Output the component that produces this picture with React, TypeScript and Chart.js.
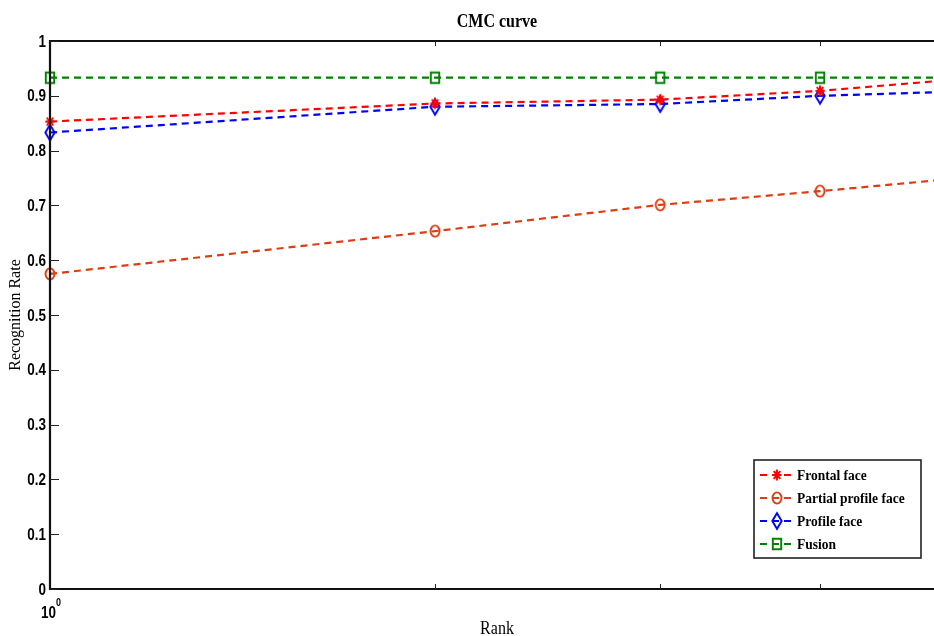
import { useEffect, useRef } from "react";
import { Chart, registerables } from "chart.js";

Chart.register(...registerables);

// Rank axis (logarithmic) and recognition rates per rank
const ranks = [1, 2, 3, 4, 5];
const frontalFace = [0.853, 0.886, 0.893, 0.909, 0.928];
const partialProfileFace = [0.575, 0.653, 0.701, 0.726, 0.747];
const profileFace = [0.833, 0.88, 0.885, 0.9, 0.907];
const fusion = [0.933, 0.933, 0.933, 0.933, 0.933];

const seriesLabels = ["Frontal face", "Partial profile face", "Profile face", "Fusion"];
const seriesValues = [frontalFace, partialProfileFace, profileFace, fusion];
const seriesColors = ["#ff0000", "#de3c12", "#0000ff", "#008000"];
const seriesMarkers = ["star", "circle", "diamond", "square"];

const yTickValues = [0, 0.1, 0.2, 0.3, 0.4, 0.5, 0.6, 0.7, 0.8, 0.9, 1];
const xMinorTicks = [2, 3, 4];
const xTickBase = "10";
const xTickExponent = "0";

const chartTitle = "CMC curve";
const xTitle = "Rank";
const yTitle = "Recognition Rate";

const CANVAS_W = 960;
const CANVAS_H = 636;
const SANS = "'Liberation Sans', Arial, Helvetica, sans-serif";
const SERIF = "'Liberation Serif', 'Times New Roman', Times, serif";
const STRETCH = 1.22;

function makeMarker(kind: string, color: string): HTMLCanvasElement {
  const c = document.createElement("canvas");
  const w = 14;
  const h = kind === "diamond" ? 20 : 16;
  c.width = w;
  c.height = h;
  const ctx = c.getContext("2d")!;
  const cx = w / 2;
  const cy = h / 2;
  ctx.strokeStyle = color;
  ctx.lineWidth = 1.9;
  ctx.beginPath();
  if (kind === "star") {
    const rx = 4.6;
    const ry = 5.4;
    ctx.moveTo(cx - rx, cy);
    ctx.lineTo(cx + rx, cy);
    ctx.moveTo(cx, cy - ry);
    ctx.lineTo(cx, cy + ry);
    ctx.moveTo(cx - rx * 0.72, cy - ry * 0.72);
    ctx.lineTo(cx + rx * 0.72, cy + ry * 0.72);
    ctx.moveTo(cx + rx * 0.72, cy - ry * 0.72);
    ctx.lineTo(cx - rx * 0.72, cy + ry * 0.72);
  } else if (kind === "circle") {
    ctx.ellipse(cx, cy, 4.5, 5.6, 0, 0, Math.PI * 2);
  } else if (kind === "diamond") {
    ctx.moveTo(cx, cy - 7.8);
    ctx.lineTo(cx + 4.7, cy);
    ctx.lineTo(cx, cy + 7.8);
    ctx.lineTo(cx - 4.7, cy);
    ctx.closePath();
  } else {
    ctx.rect(cx - 4.2, cy - 5.2, 8.4, 10.4);
  }
  ctx.stroke();
  return c;
}

function drawText(
  ctx: CanvasRenderingContext2D,
  text: string,
  x: number,
  y: number,
  font: string,
  align: CanvasTextAlign,
  baseline: CanvasTextBaseline,
  sy = STRETCH
) {
  ctx.save();
  ctx.translate(x, y);
  ctx.scale(1, sy);
  ctx.font = font;
  ctx.textAlign = align;
  ctx.textBaseline = baseline;
  ctx.fillStyle = "#000";
  ctx.fillText(text, 0, 0);
  ctx.restore();
}

const matlabFrame = {
  id: "matlabFrame",
  afterDraw(chart: any) {
    const ctx: CanvasRenderingContext2D = chart.ctx;
    const { left, right, top, bottom } = chart.chartArea;
    const xs = chart.scales.x;
    const ys = chart.scales.y;

    ctx.save();
    // axes box
    ctx.strokeStyle = "#111";
    ctx.lineWidth = 2.2;
    ctx.beginPath();
    ctx.rect(left, top, right - left, bottom - top);
    ctx.stroke();

    // inward tick marks
    ctx.lineWidth = 1;
    ctx.strokeStyle = "#222";
    ctx.beginPath();
    for (const v of yTickValues) {
      const py = Math.round(ys.getPixelForValue(v)) + 0.5;
      ctx.moveTo(left, py);
      ctx.lineTo(left + 9, py);
      ctx.moveTo(right, py);
      ctx.lineTo(right - 9, py);
    }
    for (const v of xMinorTicks) {
      const px = Math.round(xs.getPixelForValue(v)) + 0.5;
      ctx.moveTo(px, bottom);
      ctx.lineTo(px, bottom - 5);
      ctx.moveTo(px, top);
      ctx.lineTo(px, top + 5);
    }
    ctx.stroke();

    // y tick labels
    for (const v of yTickValues) {
      const py = ys.getPixelForValue(v);
      drawText(ctx, String(v), left - 4, py + 1, `bold 13.5px ${SANS}`, "right", "middle");
    }

    // x tick label 10^0
    const x0 = xs.getPixelForValue(ranks[0]);
    drawText(ctx, xTickBase, x0 - 9, bottom + 16, `bold 13.5px ${SANS}`, "left", "top");
    drawText(ctx, xTickExponent, x0 + 6, bottom + 8, `bold 9px ${SANS}`, "left", "top");

    // titles
    const cx = (left + right) / 2;
    drawText(ctx, chartTitle, cx, 27, `bold 16px ${SERIF}`, "center", "alphabetic");
    drawText(ctx, xTitle, cx, 634, `16px ${SERIF}`, "center", "alphabetic");
    ctx.save();
    ctx.translate(16, (top + bottom) / 2);
    ctx.rotate(-Math.PI / 2);
    ctx.font = `16px ${SERIF}`;
    ctx.textAlign = "center";
    ctx.textBaseline = "middle";
    ctx.fillStyle = "#000";
    ctx.fillText(yTitle, 0, 0);
    ctx.restore();

    // legend box
    const bx = right - 190;
    const by = bottom - 129;
    const bw = 167;
    const bh = 98;
    ctx.fillStyle = "#fff";
    ctx.fillRect(bx, by, bw, bh);
    ctx.strokeStyle = "#222";
    ctx.lineWidth = 1.6;
    ctx.strokeRect(bx, by, bw, bh);
    const rowY = [15, 38, 61, 84];
    chart.data.datasets.forEach((ds: any, i: number) => {
      const y = by + rowY[i];
      ctx.save();
      ctx.strokeStyle = ds.borderColor;
      ctx.lineWidth = 2.2;
      ctx.setLineDash([7, 5]);
      ctx.beginPath();
      ctx.moveTo(bx + 6, y);
      ctx.lineTo(bx + 39, y);
      ctx.stroke();
      ctx.restore();
      const m: HTMLCanvasElement = ds.pointStyle;
      ctx.drawImage(m, Math.round(bx + 23 - m.width / 2), Math.round(y - m.height / 2));
      drawText(ctx, ds.label, bx + 43, y + 1, `bold 13.5px ${SERIF}`, "left", "middle", 1.14);
    });
    ctx.restore();
  },
};

export default function App() {
  const canvasRef = useRef<HTMLCanvasElement | null>(null);

  useEffect(() => {
    const canvas = canvasRef.current;
    if (!canvas) return;
    const datasets = seriesLabels.map((label, i) => ({
      label,
      data: ranks.map((r, j) => ({ x: r, y: seriesValues[i][j] })),
      borderColor: seriesColors[i],
      backgroundColor: "transparent",
      borderWidth: 2.2,
      borderDash: [7, 5],
      pointStyle: makeMarker(seriesMarkers[i], seriesColors[i]) as any,
      pointRadius: 6,
      pointHoverRadius: 6,
      fill: false,
      tension: 0,
      clip: false as any,
    }));

    const chart = new Chart(canvas, {
      type: "line",
      data: { datasets },
      options: {
        responsive: false,
        animation: false,
        events: [],
        layout: { padding: { left: 0, top: 41, right: CANVAS_W - 944, bottom: CANVAS_H - 589 } },
        plugins: {
          legend: { display: false },
          title: { display: false },
          tooltip: { enabled: false },
        },
        scales: {
          x: {
            type: "logarithmic",
            min: 1,
            max: 5,
            ticks: { display: false },
            grid: { display: false, drawTicks: false },
            border: { display: false },
            afterFit: (s: any) => {
              s.height = 0;
            },
          },
          y: {
            type: "linear",
            min: 0,
            max: 1,
            ticks: { display: false },
            grid: { display: false, drawTicks: false },
            border: { display: false },
            afterBuildTicks: (s: any) => {
              s.ticks = yTickValues.map((v) => ({ value: v }));
            },
            afterFit: (s: any) => {
              s.width = 50;
            },
          },
        },
      },
      plugins: [matlabFrame],
    });
    return () => chart.destroy();
  }, []);

  return (
    <div
      style={{
        position: "fixed",
        left: 0,
        top: 0,
        width: "100vw",
        height: CANVAS_H,
        overflow: "hidden",
        background: "#fff",
      }}
    >
      <canvas ref={canvasRef} width={CANVAS_W} height={CANVAS_H} style={{ display: "block" }} />
    </div>
  );
}
